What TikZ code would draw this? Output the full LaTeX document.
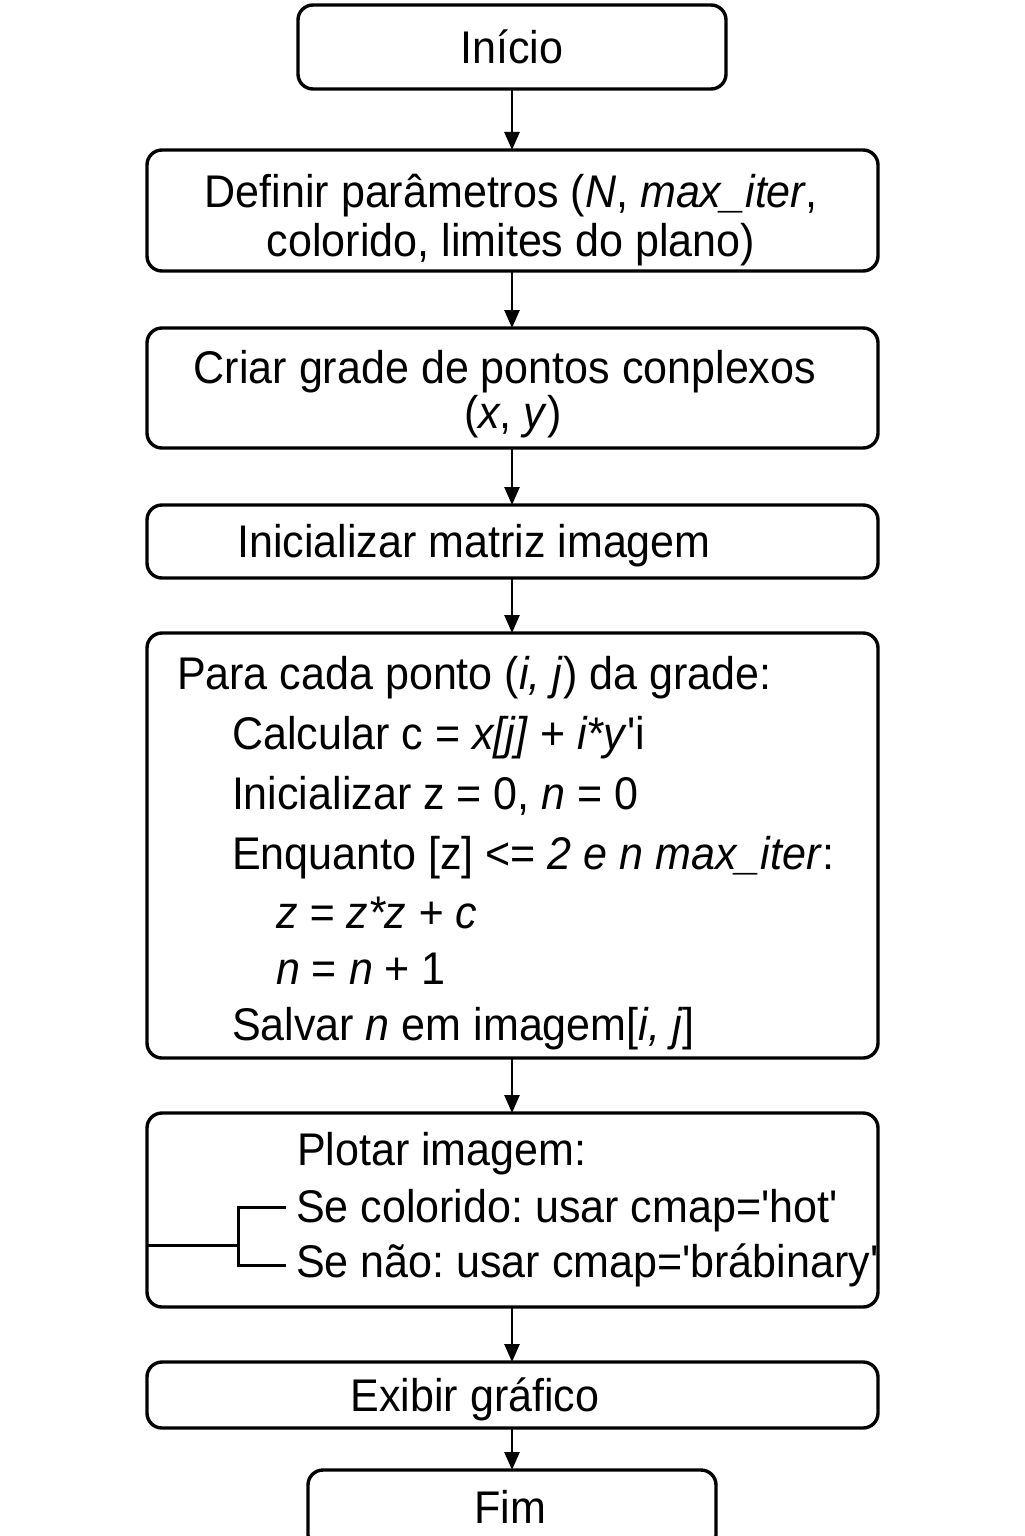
\documentclass[tikz,border=0pt]{standalone}
\usepackage{fontspec}
\setmainfont{Liberation Sans}[Ligatures=TeXOff, FakeStretch=0.94]
\usetikzlibrary{arrows.meta}
\frenchspacing
\begin{document}
\begin{tikzpicture}[x=0.5pt,y=-0.5pt,
  box/.style={draw, line width=1.7pt, rounded corners=7.5pt, inner sep=0pt, outer sep=0pt, minimum width=365.5pt},
  txt/.style={font=\fontsize{22.9}{27}\selectfont, inner sep=0pt, outer sep=0pt},
  arr/.style={line width=1.35pt, -{Triangle[length=9pt,width=7.5pt]}},
  brk/.style={line width=1.5pt}]
\useasboundingbox (0,0) rectangle (1024,1536);
% boxes
\node[box, minimum width=214pt, minimum height=42pt] (start) at (512,47) {};
\node[box, minimum height=60.5pt] (def) at (512.5,210.5) {};
\node[box, minimum height=60pt] (grid) at (512.5,388) {};
\node[box, minimum height=36.5pt] (init) at (512.5,541.5) {};
\node[box, minimum height=212.5pt] (loop) at (512.5,845.5) {};
\node[box, minimum height=97pt] (plot) at (512.5,1210) {};
\node[box, minimum height=33pt] (show) at (512.5,1395) {};
\node[box, minimum width=204pt, minimum height=40pt] (end) at (512,1510) {};
% texts
\node[txt, anchor=base] (t1) at (512,64) {Início};
\node[txt, anchor=base] (t2) at (511,207) {Definir parâmetros (\textit{N}, \textit{max\_iter},};
\node[txt, anchor=base] (t3) at (511,256) {colorido, limites do plano)};
\node[txt, anchor=base] (t4) at (505,383) {Criar grade de pontos conplexos};
\node[txt, anchor=base] (t5) at (513,428) {(\textit{x}, \textit{y})};
\node[txt, anchor=base] (t6) at (474,557) {Inicializar matriz imagem};
\node[txt, anchor=base west] (t7) at (177,689) {Para cada ponto (\textit{i, j}) da grade:};
\node[txt, anchor=base west] (t8) at (232,749) {Calcular c = \textit{x[j]} + \textit{i*y}'i};
\node[txt, anchor=base west] (t9) at (232,809) {Inicializar z = 0, \textit{n} = 0};
\node[txt, anchor=base west] (t10) at (232,869) {Enquanto [z] <= \textit{2 e n max\_iter}:};
\node[txt, anchor=base west] (t11) at (276,928) {\textit{z = z*z + c}};
\node[txt, anchor=base west] (t12) at (276,984) {\textit{n} = \textit{n} + 1};
\node[txt, anchor=base west] (t13) at (232,1040) {Salvar \textit{n} em imagem[\textit{i, j}]};
\node[txt, anchor=base west] (t14) at (297,1165) {Plotar imagem:};
\node[txt, anchor=base west] (t15) at (296,1222) {Se colorido: usar cmap='hot'};
\node[txt, anchor=base west] (t16) at (296,1277) {Se não: usar cmap='brábinary'};
\node[txt, anchor=base] (t17) at (475,1411) {Exibir gráfico};
\node[txt, anchor=base] (t18) at (510,1523) {Fim};
% bracket
\coordinate (bk) at (238,1245);
\coordinate (bt) at (238,1207);
\coordinate (bb) at (238,1265);
\coordinate (et) at (286,1207);
\coordinate (eb) at (286,1265);
\draw[brk] (plot.west |- bk) -- (bk);
\draw[brk] (et) -- (bt) -- (bb) -- (eb);
% arrows
\draw[arr] (start.south) -- (start.south |- def.north);
\draw[arr] (def.south -| start.south) -- (grid.north -| start.south);
\draw[arr] (grid.south -| start.south) -- (init.north -| start.south);
\draw[arr] (init.south -| start.south) -- (loop.north -| start.south);
\draw[arr] (loop.south -| start.south) -- (plot.north -| start.south);
\draw[arr] (plot.south -| start.south) -- (show.north -| start.south);
\draw[arr] (show.south -| start.south) -- (end.north);
\end{tikzpicture}
\end{document}
